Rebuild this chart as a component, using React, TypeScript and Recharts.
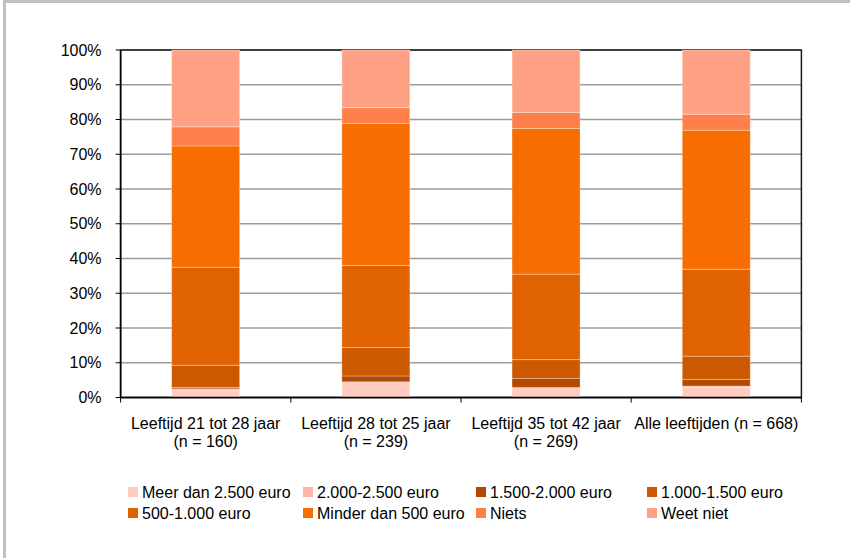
import React from 'react';
import { BarChart, Bar, XAxis, YAxis, CartesianGrid, ReferenceArea } from 'recharts';

const FONT = '"Liberation Sans", Arial, sans-serif';

// age groups shown on the x axis
const categories = [
  'Leeftijd 21 tot 28 jaar\n(n = 160)',
  'Leeftijd 28 tot 25 jaar\n(n = 239)',
  'Leeftijd 35 tot 42 jaar\n(n = 269)',
  'Alle leeftijden (n = 668)',
];

// shares per answer, in percent, stacked bottom to top
const meerDan2500 = [2.0, 4.5, 2.5, 2.9];
const van2000tot2500 = [0.5, 0.0, 0.4, 0.4];
const van1500tot2000 = [0.4, 1.7, 2.6, 1.9];
const van1000tot1500 = [6.4, 8.2, 5.4, 6.7];
const van500tot1000 = [28.2, 23.6, 24.6, 25.0];
const minderDan500 = [34.9, 40.9, 41.9, 40.0];
const niets = [5.5, 4.5, 4.6, 4.6];
const weetNiet = [22.1, 16.6, 18.0, 18.5];

const yTicks = [0, 10, 20, 30, 40, 50, 60, 70, 80, 90, 100];

const series = [
  { key: 'meer', name: 'Meer dan 2.500 euro', color: '#FFCCC0', values: meerDan2500 },
  { key: 'b2000', name: '2.000-2.500 euro', color: '#FFB5A5', values: van2000tot2500 },
  { key: 'b1500', name: '1.500-2.000 euro', color: '#B34800', values: van1500tot2000 },
  { key: 'b1000', name: '1.000-1.500 euro', color: '#CC5800', values: van1000tot1500 },
  { key: 'b500', name: '500-1.000 euro', color: '#E06200', values: van500tot1000 },
  { key: 'minder', name: 'Minder dan 500 euro', color: '#F76D00', values: minderDan500 },
  { key: 'niets', name: 'Niets', color: '#FF7F4A', values: niets },
  { key: 'weet', name: 'Weet niet', color: '#FFA184', values: weetNiet },
];

const data = categories.map((label, i) => {
  const row: Record<string, string | number> = { label };
  series.forEach((s) => {
    row[s.key] = s.values[i];
  });
  return row;
});

// legend is laid out in two rows of four, filled row by row
const legendColumns = [128, 303, 476, 647];
const legendRows = [482, 503];

// category label plus tick marks on the band edges (not the band centre)
const CategoryTick = ({ x, y, payload, index, visibleTicksCount }: any) => {
  const lines = String(payload.value).split('\n');
  const half = payload.offset || 0;
  const last = index === (visibleTicksCount ?? categories.length) - 1;
  return (
    <g>
      {half > 0 && <line x1={x - half} x2={x - half} y1={y} y2={y + 5} stroke="#000" />}
      {half > 0 && last && <line x1={x + half} x2={x + half} y1={y} y2={y + 5} stroke="#000" />}
      <text x={x} y={y} textAnchor="middle" fontFamily={FONT} fontSize={16} fill="#000">
        {lines.map((line, i) => (
          <tspan key={i} x={x} dy={i === 0 ? 31 : 18}>
            {line}
          </tspan>
        ))}
      </text>
    </g>
  );
};

const Legend = () => (
  <>
    {series.map((s, i) => (
      <div
        key={s.key}
        style={{
          position: 'absolute',
          left: legendColumns[i % 4],
          top: legendRows[Math.floor(i / 4)],
          height: 22,
          lineHeight: '22px',
          fontFamily: FONT,
          fontSize: 16,
          color: '#000',
          whiteSpace: 'nowrap',
        }}
      >
        <span
          style={{
            position: 'absolute',
            left: 0,
            top: 5,
            width: 10,
            height: 10,
            background: s.color,
          }}
        />
        <span style={{ position: 'absolute', left: 14, top: 0 }}>{s.name}</span>
      </div>
    ))}
  </>
);

export default function App() {
  return (
    <div
      style={{
        position: 'absolute',
        left: 0,
        top: 0,
        width: 850,
        height: 558,
        background: '#fff',
        overflow: 'hidden',
      }}
    >
      {/* grey frame on the left and top */}
      <div
        style={{
          position: 'absolute',
          left: 3,
          top: 0,
          width: 860,
          height: 570,
          borderLeft: '3px solid #c0c0c0',
          borderTop: '3px solid #c0c0c0',
        }}
      />
      <div style={{ position: 'absolute', left: 0, top: 0 }}>
        <BarChart
          width={850}
          height={460}
          data={data}
          margin={{ top: 50, right: 48.6, left: 60.6, bottom: 12.5 }}
          barCategoryGap="30%"
        >
          <CartesianGrid vertical={false} stroke="#9c9c9c" strokeWidth={1.5} />
          <XAxis
            dataKey="label"
            height={50}
            tickSize={0}
            tickMargin={0}
            axisLine={{ stroke: '#000', strokeWidth: 1.5 }}
            tickLine={false}
            interval={0}
            tick={<CategoryTick />}
          />
          <YAxis
            width={60}
            domain={[0, 100]}
            ticks={yTicks}
            tickFormatter={(v) => `${v}%`}
            tickSize={5}
            tickMargin={14}
            axisLine={{ stroke: '#000', strokeWidth: 1.5 }}
            tickLine={{ stroke: '#000' }}
            tick={{ fill: '#000', fontSize: 16, fontFamily: FONT }}
          />
          {series.map((s) => (
            <Bar
              key={s.key}
              dataKey={s.key}
              name={s.name}
              stackId="a"
              fill={s.color}
              stroke="#ffffff"
              strokeOpacity={0.3}
              strokeWidth={1}
              isAnimationActive={false}
            />
          ))}
          {/* plot area border */}
          <ReferenceArea
            y1={0}
            y2={100}
            fill="none"
            stroke="#1a1a1a"
            strokeWidth={1.5}
            ifOverflow="extendDomain"
          />
        </BarChart>
      </div>
      <Legend />
    </div>
  );
}
